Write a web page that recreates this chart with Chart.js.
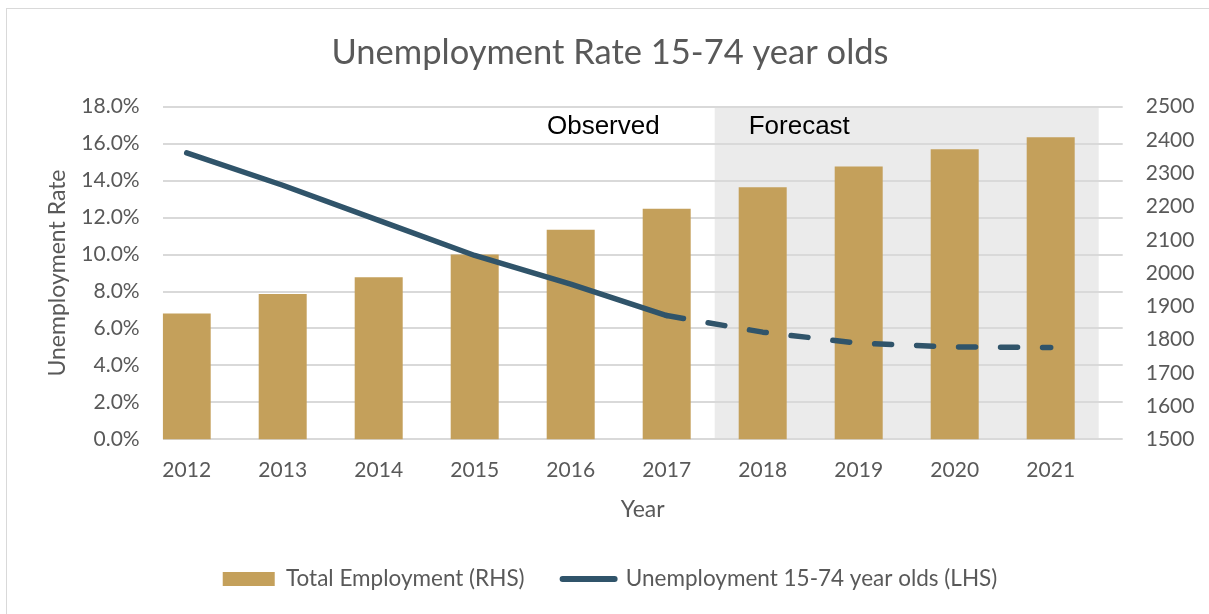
<!DOCTYPE html>
<html>
<head>
<meta charset="utf-8">
<script src="https://cdn.jsdelivr.net/npm/chart.js@4"></script>
<style>
  html, body { margin: 0; padding: 0; background: #ffffff; overflow: hidden; }
  #wrap { position: relative; width: 1209px; height: 614px; }
  #chart { position: absolute; left: 0; top: 0; }
  #frame { position: absolute; left: 6px; top: 8px; width: 1300px; height: 700px;
           border: 1px solid #d9d9d9; pointer-events: none; }
</style>
</head>
<body>
<div id="wrap">
  <canvas id="chart" width="1209" height="614"></canvas>
  <div id="frame"></div>
</div>
<script>
// Years on the category axis
const years = [2012, 2013, 2014, 2015, 2016, 2017, 2018, 2019, 2020, 2021];
// Total employment, thousands (right-hand axis)
const totalEmployment = [1878, 1937, 1987, 2056, 2130, 2193, 2258, 2320, 2372, 2408];
// Unemployment rate for 15-74 year olds, percent (left-hand axis)
const unemploymentRate = [15.5, 13.75, 11.85, 9.95, 8.4, 6.7, 5.8, 5.2, 5.0, 4.97];
// Last year with observed data; later years are forecasts
const lastObservedYear = 2017;
// Axis ranges
const rateAxis = { min: 0, max: 18, step: 2 };
const employmentAxis = { min: 1500, max: 2500, step: 100 };

const GOLD = '#C4A05B';
const SLATE = '#30546A';
const GREY_TEXT = '#595959';
const FONT = 'Lato, "Open Sans", sans-serif';

// Shaded band behind the forecast years plus the two region captions
const forecastBand = {
  id: 'forecastBand',
  beforeDraw(chart) {
    const { ctx, chartArea, scales } = chart;
    const x0 = scales.x.getPixelForValue(lastObservedYear + 0.5);
    const x1 = scales.x.getPixelForValue(years[years.length - 1] + 0.5);
    ctx.save();
    ctx.fillStyle = '#EBEBEB';
    ctx.fillRect(x0, chartArea.top, x1 - x0, chartArea.bottom - chartArea.top);
    ctx.restore();
  },
  afterDatasetsDraw(chart) {
    const { ctx, chartArea, scales } = chart;
    const split = scales.x.getPixelForValue(lastObservedYear + 0.5);
    const baseline = chartArea.top + 27;
    ctx.save();
    ctx.font = '26px "Liberation Sans", Arial, sans-serif';
    ctx.fillStyle = '#000000';
    ctx.textBaseline = 'alphabetic';
    ctx.textAlign = 'right';
    ctx.fillText('Observed', split - 55, baseline);
    ctx.textAlign = 'left';
    ctx.fillText('Forecast', split + 34, baseline);
    ctx.restore();
  }
};

const ctx = document.getElementById('chart').getContext('2d');
new Chart(ctx, {
  data: {
    datasets: [
      {
        type: 'bar',
        label: 'Total Employment (RHS)',
        data: years.map((y, i) => ({ x: y, y: totalEmployment[i] })),
        backgroundColor: GOLD,
        borderWidth: 0,
        xAxisID: 'x',
        yAxisID: 'y1',
        barPercentage: 0.5,
        categoryPercentage: 1.0,
        order: 2
      },
      {
        type: 'line',
        label: 'Unemployment 15-74 year olds (LHS)',
        data: years.map((y, i) => ({ x: y, y: unemploymentRate[i] })),
        borderColor: SLATE,
        backgroundColor: SLATE,
        borderWidth: 5.5,
        borderCapStyle: 'round',
        borderJoinStyle: 'round',
        pointRadius: 0,
        pointHoverRadius: 0,
        tension: 0,
        xAxisID: 'x',
        yAxisID: 'y',
        order: 1,
        segment: {
          borderDash: (c) => (c.p0.parsed.x >= lastObservedYear ? [17, 25] : undefined)
        }
      }
    ]
  },
  options: {
    responsive: false,
    devicePixelRatio: 1,
    animation: false,
    layout: { padding: { left: 11, right: 0, top: 0, bottom: 13.7 } },
    font: { family: FONT },
    plugins: {
      title: {
        display: true,
        text: 'Unemployment Rate 15-74 year olds',
        color: GREY_TEXT,
        font: { family: FONT, size: 34.5, weight: 'normal', lineHeight: 1.2 },
        padding: { top: 32.5, bottom: 32.8 }
      },
      legend: {
        display: true,
        position: 'bottom',
        maxHeight: 85.25,
        labels: {
          color: GREY_TEXT,
          font: { family: FONT, size: 22.5 },
          usePointStyle: true,
          pointStyleWidth: 52,
          boxWidth: 52,
          boxHeight: 14,
          padding: 38,
          generateLabels: (chart) => chart.data.datasets.map((ds, i) => ({
            text: ds.label,
            datasetIndex: i,
            hidden: false,
            fontColor: GREY_TEXT,
            fillStyle: ds.type === 'bar' ? ds.backgroundColor : ds.borderColor,
            strokeStyle: ds.type === 'bar' ? ds.backgroundColor : ds.borderColor,
            lineWidth: ds.type === 'bar' ? 0 : 6,
            lineCap: 'round',
            pointStyle: ds.type === 'bar' ? 'rect' : 'line'
          }))
        }
      },
      tooltip: { enabled: false }
    },
    scales: {
      x: {
        type: 'linear',
        position: 'bottom',
        offset: false,
        min: years[0] - 0.25,
        max: years[years.length - 1] + 0.75,
        afterBuildTicks: (scale) => { scale.ticks = years.map((v) => ({ value: v })); },
        afterFit: (scale) => { scale.height = 90.45; },
        grid: { display: false, drawTicks: false },
        border: { display: false },
        ticks: {
          autoSkip: false,
          maxRotation: 0,
          padding: 18,
          color: GREY_TEXT,
          font: { family: FONT, size: 21, lineHeight: 1.2 },
          callback: (v) => String(v)
        },
        title: {
          display: true,
          text: 'Year',
          color: GREY_TEXT,
          font: { family: FONT, size: 23, lineHeight: 1.2 },
          padding: { top: 0, bottom: 5.95 }
        }
      },
      y: {
        type: 'linear',
        position: 'left',
        min: rateAxis.min,
        max: rateAxis.max,
        afterFit: (scale) => { scale.width = 151.7; },
        grid: { color: '#D9D9D9', lineWidth: 2, drawTicks: false },
        border: { display: false },
        ticks: {
          stepSize: rateAxis.step,
          padding: 23,
          color: GREY_TEXT,
          font: { family: FONT, size: 21 },
          callback: (v) => v.toFixed(1) + '%'
        },
        title: {
          display: true,
          text: 'Unemployment Rate',
          color: GREY_TEXT,
          font: { family: FONT, size: 23, lineHeight: 1.2 },
          padding: { top: 33.2, bottom: 0 }
        }
      },
      y1: {
        type: 'linear',
        position: 'right',
        min: employmentAxis.min,
        max: employmentAxis.max,
        afterFit: (scale) => { scale.width = 86.3; },
        grid: { display: false, drawTicks: false },
        border: { display: false },
        ticks: {
          stepSize: employmentAxis.step,
          padding: 23,
          color: GREY_TEXT,
          font: { family: FONT, size: 21 },
          callback: (v) => String(v)
        }
      }
    }
  },
  plugins: [forecastBand]
});
</script>
</body>
</html>
